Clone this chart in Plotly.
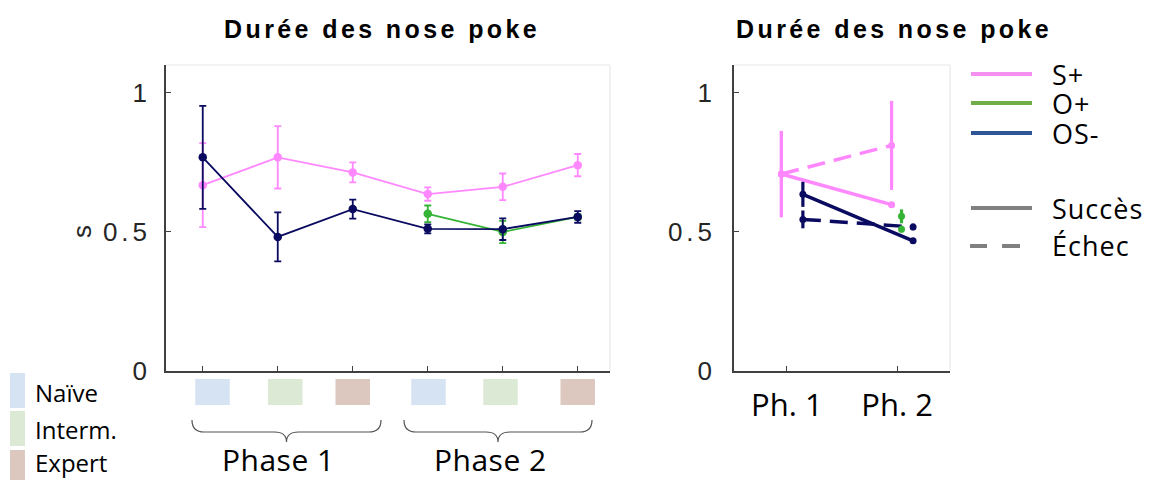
import plotly.graph_objects as go

# reference canvas is 1157x480; the photographed viewport maps 495 css px onto 480 rows
W, H = 1157, 480
FH = 495

# ---------------- data ----------------
stage_x = [1, 2, 3, 4, 5, 6]
stage_names = ["Naïve", "Interm.", "Expert"]
stage_colors = ["#D5E3F2", "#DCEAD5", "#DCC8BE"]
phase_labels = ["Phase 1", "Phase 2"]

sp_mean = [0.668, 0.768, 0.714, 0.636, 0.662, 0.740]
sp_err = [0.151, 0.112, 0.036, 0.024, 0.048, 0.040]

op_x = [4, 5, 6]
op_mean = [0.565, 0.500, 0.554]
op_err = [0.030, 0.040, 0.010]

osm_mean = [0.768, 0.482, 0.582, 0.511, 0.510, 0.554]
osm_err = [0.185, 0.088, 0.034, 0.016, 0.039, 0.021]

ph_x = [1, 2]
ph_labels = ["Ph. 1", "Ph. 2"]
sp_succ = [0.708, 0.598]
sp_succ_err = [0.155, 0.010]
sp_fail = [0.708, 0.811]
sp_fail_err = [0.155, 0.160]
op_succ = [0.556]
op_succ_err = [0.025]
op_fail = [0.510]
op_fail_err = [0.012]
osm_succ = [0.635, 0.468]
osm_succ_err = [0.045, 0.008]
osm_fail = [0.545, 0.518]
osm_fail_err = [0.032, 0.012]

title_text = "Durée des nose poke"
yticks = [0, 0.5, 1]
ytick_text = ["0", "0.5", "1"]

# ---------------- style ----------------
PINK = "#FF88FF"
NAVY = "#0A0A60"
GREEN = "#35B335"
AXC = "#404040"
offs = {"S+": -0.05, "O+": 0.04, "OS-": 0.145}
square_shift = [0.13, 0.1, 0.0, 0.01, -0.03, 0.0]


def px(x):
    return x / W


def py(y):
    return 1 - y / H


def sp(t, ls):
    return f'<span style="letter-spacing:{ls}px">{t}</span>'


fig = go.Figure()

# left panel
fig.add_trace(go.Scatter(x=stage_x, y=sp_mean, mode="lines+markers",
                         line=dict(color=PINK, width=1.8), marker=dict(size=8.5, color=PINK),
                         error_y=dict(type="data", array=sp_err, color=PINK, thickness=1.8, width=3.5),
                         xaxis="x", yaxis="y", showlegend=False))
fig.add_trace(go.Scatter(x=op_x, y=op_mean, mode="lines+markers",
                         line=dict(color=GREEN, width=1.8), marker=dict(size=8.5, color=GREEN),
                         error_y=dict(type="data", array=op_err, color=GREEN, thickness=1.8, width=3.5),
                         xaxis="x", yaxis="y", showlegend=False))
fig.add_trace(go.Scatter(x=stage_x, y=osm_mean, mode="lines+markers",
                         line=dict(color=NAVY, width=1.8), marker=dict(size=8.5, color=NAVY),
                         error_y=dict(type="data", array=osm_err, color=NAVY, thickness=1.8, width=3.5),
                         xaxis="x", yaxis="y", showlegend=False))


# right panel
def rtrace(xs, ys, errs, color, dash, key):
    fig.add_trace(go.Scatter(x=[v + offs[key] for v in xs], y=ys, mode="lines+markers",
                             line=dict(color=color, width=3.5, dash=dash),
                             marker=dict(size=7, color=color),
                             error_y=dict(type="data", array=errs, color=color, thickness=3.2, width=0),
                             xaxis="x2", yaxis="y2", showlegend=False))


rtrace(ph_x, sp_fail, sp_fail_err, PINK, "18px,9px", "S+")
rtrace(ph_x, sp_succ, sp_succ_err, PINK, "solid", "S+")
rtrace(ph_x, osm_fail, osm_fail_err, NAVY, "18px,9px", "OS-")
rtrace(ph_x, osm_succ, osm_succ_err, NAVY, "solid", "OS-")
rtrace(ph_x[1:], op_succ, op_succ_err, GREEN, "solid", "O+")
rtrace(ph_x[1:], op_fail, op_fail_err, GREEN, "solid", "O+")

tickfont = dict(family="Liberation Sans", size=26, color="#262626")
ytt = [sp(t, 4) for t in ytick_text]

common_x = dict(showgrid=False, zeroline=False, showline=True, linecolor=AXC, linewidth=1.5,
                ticks="inside", ticklen=5, tickcolor=AXC, tickwidth=1.2)
common_y = dict(showgrid=False, zeroline=False, showline=True, linecolor=AXC, linewidth=1.5,
                ticks="inside", ticklen=5, tickcolor=AXC, tickwidth=1.2, range=[0, 1.1],
                tickvals=yticks, ticktext=ytt, tickfont=tickfont,
                domain=[py(371), py(65)])

fig.update_layout(
    width=W, height=FH, autosize=False,
    margin=dict(l=0, r=0, t=0, b=0),
    paper_bgcolor="white", plot_bgcolor="white",
    xaxis=dict(common_x, domain=[px(166), px(610)], range=[0.51, 6.43],
               tickvals=stage_x, showticklabels=False, anchor="y"),
    yaxis=dict(common_y, anchor="x", ticklabelstandoff=8),
    xaxis2=dict(common_x, domain=[px(734), px(950)], range=[0.52, 2.48],
                tickvals=ph_x, ticktext=ph_labels, anchor="y2",
                tickfont=dict(family="Open Sans", size=31, color="black"), ticklabelstandoff=6),
    yaxis2=dict(common_y, anchor="x2", ticklabelstandoff=11),
)

shapes = []
# light top/right frame lines
for (l, r) in [(166, 610), (734, 950)]:
    shapes.append(dict(type="line", xref="paper", yref="paper", x0=px(l), x1=px(r), y0=py(65), y1=py(65),
                       line=dict(color="#E8E8E8", width=1.2)))
    shapes.append(dict(type="line", xref="paper", yref="paper", x0=px(r), x1=px(r), y0=py(65), y1=py(371),
                       line=dict(color="#E8E8E8", width=1.2)))

# stage squares under x ticks
for i, xv in enumerate(stage_x):
    c = xv + square_shift[i]
    shapes.append(dict(type="rect", xref="x", yref="paper", x0=c - 0.23, x1=c + 0.23,
                       y0=py(405), y1=py(379), fillcolor=stage_colors[i % 3], line=dict(width=0)))


# braces
def brace(x1, x2, ytop, ymid, ytip):
    xc = (x1 + x2) / 2
    r = 12
    pts = (f"M {px(x1)},{py(ytop)} Q {px(x1)},{py(ymid)} {px(x1 + r)},{py(ymid)} "
           f"L {px(xc - r)},{py(ymid)} Q {px(xc)},{py(ymid)} {px(xc)},{py(ytip)} "
           f"Q {px(xc)},{py(ymid)} {px(xc + r)},{py(ymid)} "
           f"L {px(x2 - r)},{py(ymid)} Q {px(x2)},{py(ymid)} {px(x2)},{py(ytop)}")
    return dict(type="path", xref="paper", yref="paper", path=pts, line=dict(color="#555555", width=1.2))


shapes.append(brace(192, 381, 420, 432, 442))
shapes.append(brace(404, 592, 420, 432, 442))

# bottom-left stage legend bars
for (c, y0, y1) in zip(stage_colors, [373, 411, 450], [408, 446, 480]):
    shapes.append(dict(type="rect", xref="paper", yref="paper", x0=px(10), x1=px(25),
                       y0=py(y1), y1=py(y0), fillcolor=c, line=dict(width=0)))

# right legend lines
leg_items = [("S+", "#F58FF0", 74, "solid"), ("O+", "#70AD47", 103, "solid"),
             ("OS-", "#2F5597", 133, "solid"), ("Succès", "#808080", 208, "solid"),
             ("Échec", "#808080", 246, "dash")]
for name, c, yy, d in leg_items:
    if d == "solid":
        shapes.append(dict(type="line", xref="paper", yref="paper", x0=px(971), x1=px(1032),
                           y0=py(yy), y1=py(yy), line=dict(color=c, width=4)))
    else:
        for a, b in [(970, 987), (1002, 1020)]:
            shapes.append(dict(type="line", xref="paper", yref="paper", x0=px(a), x1=px(b),
                               y0=py(yy), y1=py(yy), line=dict(color=c, width=4)))

fig.update_layout(shapes=shapes)

ann = []


def A(text, x, y, size, family="Open Sans", xanchor="center", color="black", angle=0, ls=0):
    ann.append(dict(text=sp(text, ls) if ls else text, x=px(x), y=py(y), xref="paper", yref="paper",
                    showarrow=False, xanchor=xanchor, yanchor="middle", textangle=angle,
                    font=dict(family=family, size=size, color=color)))


A("<b>" + title_text + "</b>", 381.5, 29, 25, family="Liberation Sans", ls=3.4)
A("<b>" + title_text + "</b>", 893.5, 29, 25, family="Liberation Sans", ls=3.4)
A("s", 82, 232, 26, family="Liberation Sans", angle=-90, color="#262626")
A(phase_labels[0], 278, 459, 30, ls=0.5)
A(phase_labels[1], 490, 459, 30, ls=0.5)
for name, yy in zip(stage_names, [392, 429, 462]):
    A(name, 33, yy, 24, xanchor="left")
for name, c, yy, d in leg_items:
    A(name, 1050, yy, 27, xanchor="left", ls=1)

fig.update_layout(annotations=ann)

fig.write_html("out.html", config={"displayModeBar": False},
               post_script="document.body.style.margin='0';document.body.style.overflow='hidden';")
